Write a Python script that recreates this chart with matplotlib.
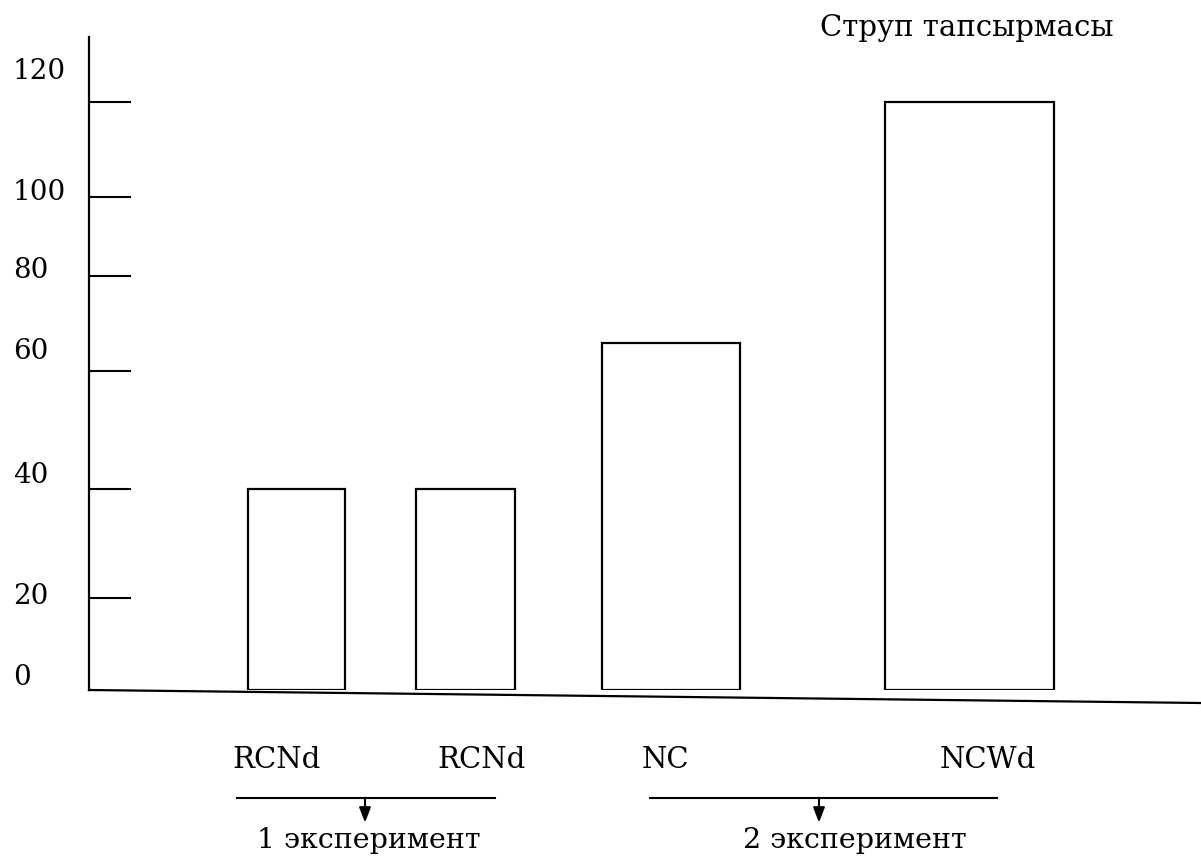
import numpy as np
import matplotlib
matplotlib.use("Agg")
import matplotlib.pyplot as plt
from matplotlib.transforms import offset_copy

plt.rcParams['font.family'] = ['DejaVu Serif']

# data
categories = ['RCNd', 'RCNd', 'NC', 'NCWd']
values = [40, 40, 66, 120]
tick_values = [0, 20, 40, 60, 80, 100, 120]
tick_labels = ['0', '20', '40', '60', '80', '100', '120']
groups = ['1 эксперимент', '2 эксперимент']
title = 'Струп тапсырмасы'

# layout (hand-drawn look: uneven axis spacing, uneven bars)
bar_x = [2.07, 3.765, 5.82, 8.80]
bar_w = [0.97, 0.99, 1.38, 1.69]
label_x = [1.88, 3.92, 5.76, 8.99]
label_up = [9, 1, 10, 14, 4, 3, 22]   # points, tick label above its tick
group_span = [(1.48, 4.06), (5.61, 9.08)]
arrow_x = [2.76, 7.30]
group_text_x = [2.80, 7.66]

# uneven y axis as drawn in the original
scale_v = [-20, 0, 20, 40, 60, 80, 100, 120, 140]
scale_p = [-92, 0, 92, 201, 319, 414, 493, 588, 683]


def fwd(v):
    return np.interp(v, scale_v, scale_p)


def inv(p):
    return np.interp(p, scale_p, scale_v)


fig = plt.figure(figsize=(12.01, 8.57), dpi=100)
ax = fig.add_axes([89 / 1201, 167 / 857, 1112 / 1201, 653 / 857])
ax.set_yscale('function', functions=(fwd, inv))
ax.set_xlim(0, 11.12)
ax.set_ylim(0, inv(653))

ax.bar(bar_x, values, width=bar_w, color='white', edgecolor='black',
       linewidth=1.6, zorder=2)

for s in ['top', 'right', 'bottom']:
    ax.spines[s].set_visible(False)
ax.spines['left'].set_linewidth(1.6)

# slanted baseline
ax.plot([0, 1], [0, -13 / 653], transform=ax.transAxes, color='black',
        lw=1.6, clip_on=False, zorder=3)

ax.set_xticks([])
ax.set_yticks(tick_values[1:])
ax.set_yticklabels([])
ax.tick_params(axis='y', direction='in', length=30, width=1.5)

fs = 21
ytr = ax.get_yaxis_transform()
for v, lab, up in zip(tick_values, tick_labels, label_up):
    tr = offset_copy(ytr, fig=fig, x=0, y=up, units='points')
    ax.text(-0.0683, v, lab, transform=tr, ha='left', va='center',
            fontsize=fs - 1)

xtr = ax.get_xaxis_transform()
for x, lab in zip(label_x, categories):
    ax.text(x, -0.107, lab, transform=xtr, ha='center', va='center',
            fontsize=fs)

for (x0, x1), ax_x, tx, g in zip(group_span, arrow_x, group_text_x, groups):
    ax.plot([x0, x1], [-0.1654, -0.1654], transform=xtr, color='black',
            lw=1.5, clip_on=False)
    ax.annotate('', xy=(ax_x, -0.203), xytext=(ax_x, -0.1654),
                xycoords=xtr, textcoords=xtr,
                arrowprops=dict(arrowstyle='-|>,head_width=0.35,head_length=0.9',
                                color='black', lw=1.5, shrinkA=0, shrinkB=0))
    ax.text(tx, -0.230, g, transform=xtr, ha='center', va='center',
            fontsize=fs - 0.5)

ax.text(8.78, 1.0138, title, transform=xtr, ha='center', va='center',
        fontsize=fs, clip_on=False)

fig.savefig('out.png', dpi=100)
